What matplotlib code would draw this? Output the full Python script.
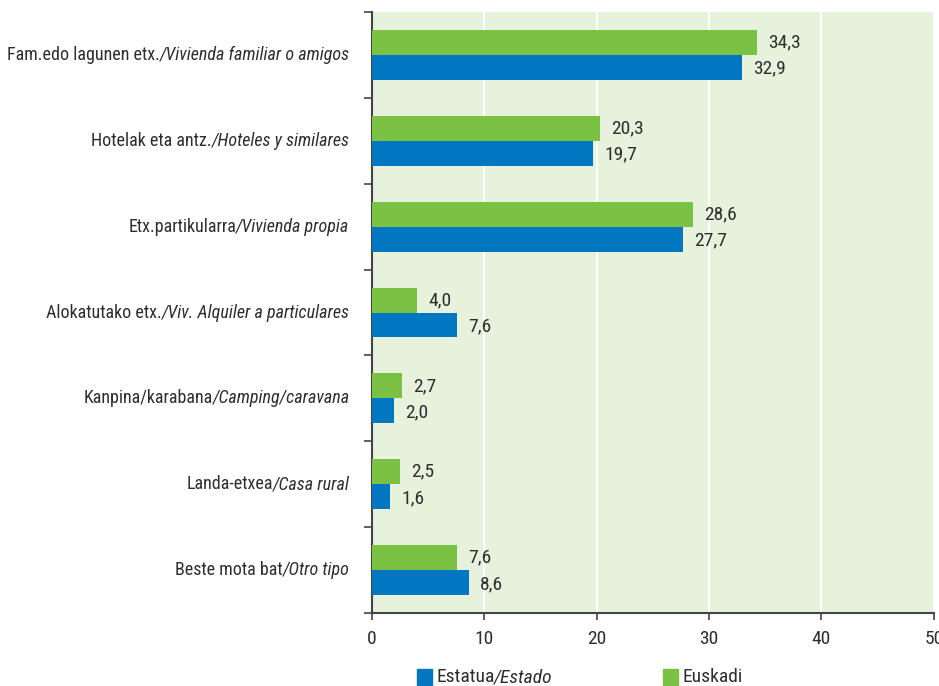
import matplotlib.pyplot as plt
from matplotlib.patches import Rectangle
import numpy as np

# labels split in basque (upright) and spanish (italic) part
labels_eu = ["Fam.edo lagunen etx.", "Hotelak eta antz.", "Etx.partikularra",
             "Alokatutako etx.", "Kanpina/karabana", "Landa-etxea", "Beste mota bat"]
labels_es = ["/Vivienda familiar o amigos", "/Hoteles y similares", "/Vivienda propia",
             "/Viv. Alquiler a particulares", "/Camping/caravana", "/Casa rural", "/Otro tipo"]
estado = [32.9, 19.7, 27.7, 7.6, 2.0, 1.6, 8.6]
euskadi = [34.3, 20.3, 28.6, 4.0, 2.7, 2.5, 7.6]
xticks = [0, 10, 20, 30, 40, 50]

blue = "#0077c0"
green = "#7bc143"
bg = "#e6f2dc"
txt = "#2e2e2e"

plt.rcParams['font.family'] = ['Roboto Condensed', 'Roboto', 'DejaVu Sans']
fs = 13

fig = plt.figure(figsize=(9.39, 6.86), dpi=100)
ax = fig.add_axes([0.396, 0.1064, 0.5985, 0.8761])
ax.set_facecolor(bg)

n = len(labels_eu)
y = np.arange(n)
h = 0.29
ax.barh(y - h / 2, euskadi, height=h, color=green, zorder=3)
ax.barh(y + h / 2, estado, height=h, color=blue, zorder=3)

for i in range(n):
    ax.annotate(f"{euskadi[i]:.1f}".replace(".", ","), (euskadi[i], y[i] - h / 2),
                xytext=(8, 0), textcoords="offset points", va="center", ha="left",
                color=txt, fontsize=fs + 1)
    ax.annotate(f"{estado[i]:.1f}".replace(".", ","), (estado[i], y[i] + h / 2),
                xytext=(8, -1), textcoords="offset points", va="center", ha="left",
                color=txt, fontsize=fs + 1)

ax.set_xlim(0, 50)
ax.set_ylim(n - 0.5, -0.5)
ax.set_xticks(xticks)
ax.set_xticklabels([str(t) for t in xticks], color=txt)
ax.set_yticks(np.arange(n + 1) - 0.5)
ax.set_yticklabels([])
ax.grid(axis="x", color="white", linewidth=1.5, zorder=1)
for s in ["top", "right"]:
    ax.spines[s].set_visible(False)
ax.spines["left"].set_color("#444444")
ax.spines["bottom"].set_color("#444444")
ax.spines["left"].set_linewidth(1.5)
ax.spines["bottom"].set_linewidth(1.5)
ax.tick_params(axis="y", length=6, width=1.2, color="#444444")
ax.tick_params(axis="x", length=5, width=1.2, color="#444444", pad=7, labelsize=fs + 1)

# category labels: upright + italic part
for i in range(n):
    it = ax.annotate(labels_es[i], (0, y[i]), xycoords=("axes fraction", "data"),
                     xytext=(-16, 0), textcoords="offset points",
                     ha="right", va="center", style="italic", color=txt, fontsize=fs)
    ax.annotate(labels_eu[i], (0, 0), xycoords=it, ha="right", va="bottom",
                color=txt, fontsize=fs)

# legend
ly = 1 - 677 / 686
fig.patches.append(Rectangle((417 / 939, 1 - 685 / 686), 15 / 939, 16 / 686,
                             transform=fig.transFigure, color=blue))
t1 = fig.text(436 / 939, ly, "Estatua", ha="left", va="center", color=txt, fontsize=fs + 1)
fig.patches.append(Rectangle((663 / 939, 1 - 685 / 686), 15 / 939, 16 / 686,
                             transform=fig.transFigure, color=green))
fig.text(683 / 939, ly, "Euskadi", ha="left", va="center", color=txt, fontsize=fs + 1)
ax.annotate("/Estado", (1, 0), xycoords=t1, ha="left", va="bottom", style="italic",
            color=txt, fontsize=fs + 1, annotation_clip=False)

fig.savefig("out.png", dpi=100)
